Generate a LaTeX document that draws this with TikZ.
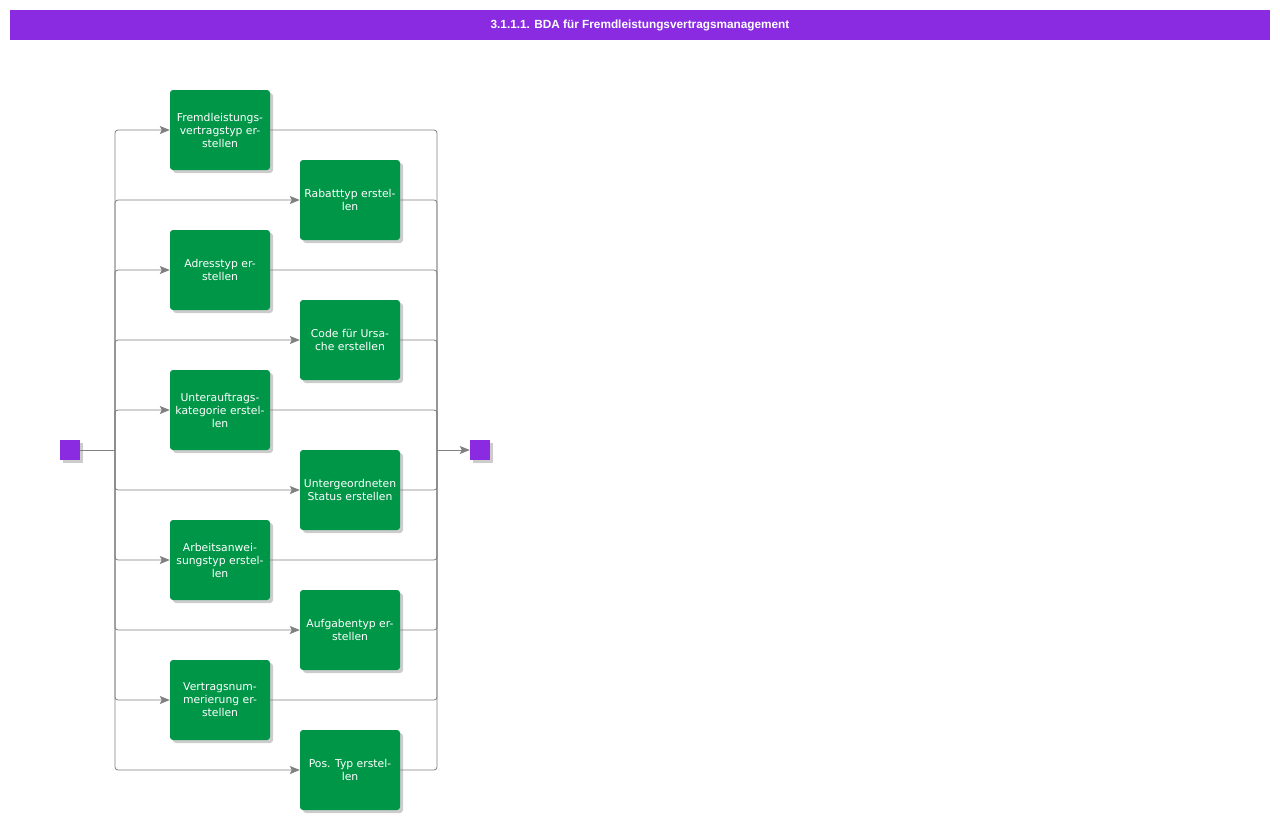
\documentclass[tikz,border=0pt]{standalone}
\usepackage{fontspec}
\setmainfont{DejaVu Sans}
\newfontfamily\titlefont{Liberation Sans}
\usetikzlibrary{shadows,arrows.meta}
\definecolor{bpurple}{RGB}{138,43,226}
\definecolor{bgreen}{RGB}{0,150,72}
\definecolor{lgray}{RGB}{128,128,128}
\tikzset{
  task/.style={fill=bgreen, rounded corners=3pt, minimum width=100pt, minimum height=80pt,
    inner sep=0pt, align=center, text=white, font=\fontsize{10.8}{13}\selectfont,
    drop shadow={shadow xshift=3pt, shadow yshift=-3pt, fill=black, opacity=0.2}},
  evt/.style={fill=bpurple, minimum width=20pt, minimum height=20pt, inner sep=0pt,
    drop shadow={shadow xshift=3pt, shadow yshift=-3pt, fill=black, opacity=0.2}},
  conn/.style={draw=lgray, line width=0.8pt, rounded corners=3pt},
  arr/.style={conn, -{Stealth[length=10pt,width=8pt,inset=2pt]}},
}
\begin{document}
\begin{tikzpicture}[x=1pt,y=-1pt]
\useasboundingbox (0,0) rectangle (1280,820);
\fill[white] (0,0) rectangle (1280,820);
\node[fill=bpurple, minimum width=1260pt, minimum height=30pt, inner sep=0pt, text=white,
  font=\titlefont\bfseries\fontsize{11.8}{13}\selectfont] (title) at (640,25) {3.1.1.1. BDA für Fremdleistungsvertragsmanagement};
\node[evt] (start) at (70,450) {};
\node[evt] (end) at (480,450) {};
\coordinate (L) at (115,450);
\coordinate (R) at (437,450);
\node[task] (t1) at (220,130) {Fremdleistungs-\\vertragstyp er-\\stellen};
\node[task] (t2) at (350,200) {Rabatttyp erstel-\\len};
\node[task] (t3) at (220,270) {Adresstyp er-\\stellen};
\node[task] (t4) at (350,340) {Code für Ursa-\\che erstellen};
\node[task] (t5) at (220,410) {Unterauftrags-\\kategorie erstel-\\len};
\node[task] (t6) at (350,490) {Untergeordneten\\Status erstellen};
\node[task] (t7) at (220,560) {Arbeitsanwei-\\sungstyp erstel-\\len};
\node[task] (t8) at (350,630) {Aufgabentyp er-\\stellen};
\node[task] (t9) at (220,700) {Vertragsnum-\\merierung er-\\stellen};
\node[task] (t10) at (350,770) {Pos. Typ erstel-\\len};
\draw[conn] (start.east) -- (L);
\foreach \t in {t1,t2,t3,t4,t5,t6,t7,t8,t9,t10}{
  \draw[arr] (L) |- (\t.west);
  \draw[conn] (\t.east) -| (R);
}
\draw[arr] (R) -- (end.west);
\end{tikzpicture}
\end{document}
